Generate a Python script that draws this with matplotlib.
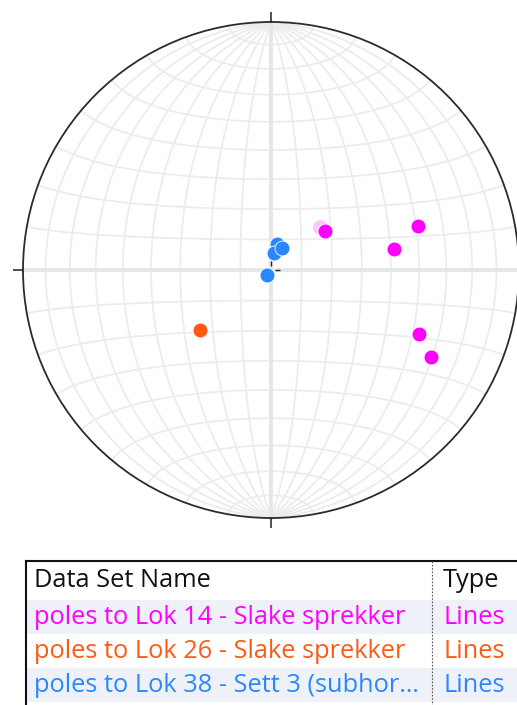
import numpy as np
import matplotlib
matplotlib.use("Agg")
import matplotlib.pyplot as plt
from matplotlib.patches import Rectangle, Circle

# Poles (trend, plunge in degrees), lower hemisphere
lok14_trend = [53.9, 73.3, 80.5, 113.4, 118.5]
lok14_plunge = [68.0, 38.0, 48.2, 35.1, 27.6]
lok14_faint_trend = [48.5]
lok14_faint_plunge = [68.5]
lok26_trend = [229.8]
lok26_plunge = [59.3]
lok38_trend = [12.4, 10.0, 26.0, 220.6]
lok38_plunge = [81.3, 84.2, 81.9, 87.8]

set_names = ["poles to Lok 14 - Slake sprekker",
             "poles to Lok 26 - Slake sprekker",
             "poles to Lok 38 - Sett 3 (subhor\u2026"]
set_types = ["Lines", "Lines", "Lines"]
set_colors = ["#ff00ff", "#ff5a14", "#2a88ff"]


def project(x, y, z):
    # Lambert equal-area, lower hemisphere (z <= 0), unit primitive
    s = 1.0 / np.sqrt(1.0 - z)
    return x * s, y * s


def pole_xy(trend, plunge):
    tr = np.radians(trend)
    pl = np.radians(plunge)
    x = np.cos(pl) * np.sin(tr)
    y = np.cos(pl) * np.cos(tr)
    z = -np.sin(pl)
    return project(x, y, z)


W, H = 517, 705
fig = plt.figure(figsize=(W / 100, H / 100), dpi=100)

# net axes: 248 px per unit, centre at (271, 270) px
R, cx, cy = 248.0, 271.0, 270.0
top_px = 548
ax = fig.add_axes([0, 1 - top_px / H, 1, top_px / H])
ax.set_xlim(-cx / R, (W - cx) / R)
ax.set_ylim((cy - top_px) / R, cy / R)
ax.axis("off")

grid_c = "#ececec"
t = np.linspace(0, np.pi, 361)
for d in range(10, 90, 10):
    a = np.radians(d)
    # great circles through N-S
    for sgn in (1, -1):
        x = np.sin(t) * np.cos(a) * sgn
        y = np.cos(t)
        z = -np.sin(t) * np.sin(a)
        px, py = project(x, y, z)
        ax.plot(px, py, color=grid_c, lw=1.3, zorder=1)
    # small circles about N-S axis
    for alpha in (d, 180 - d):
        b = np.radians(alpha)
        x = np.sin(b) * np.cos(t)
        y = np.full_like(t, np.cos(b))
        z = -np.sin(b) * np.sin(t)
        px, py = project(x, y, z)
        ax.plot(px, py, color=grid_c, lw=1.3, zorder=1)

ax.plot([-1, 1], [0, 0], color="#e6e6e6", lw=2.8, zorder=1)
ax.plot([0, 0], [-1, 1], color="#e6e6e6", lw=2.8, zorder=1)

ax.add_patch(Circle((0, 0), 1.0, fill=False, ec="#2b2b2b", lw=1.3, zorder=3))
tk = 10 / R
for dx, dy in [(0, 1), (1, 0), (0, -1), (-1, 0)]:
    ax.plot([dx, dx * (1 + tk)], [dy, dy * (1 + tk)], color="#222222", lw=1.1,
            zorder=3, solid_capstyle="butt")
    ax.plot([dx * 4 / R, dx * 9 / R], [dy * 4 / R, dy * 9 / R], color="#222222",
            lw=1.0, zorder=2, solid_capstyle="butt")

fx, fy = pole_xy(np.array(lok14_faint_trend), np.array(lok14_faint_plunge))
ax.scatter(fx, fy, s=115, color=set_colors[0], alpha=0.22, lw=0, zorder=4)
for tr, pl, c in [(lok14_trend, lok14_plunge, set_colors[0]),
                  (lok26_trend, lok26_plunge, set_colors[1]),
                  (lok38_trend, lok38_plunge, set_colors[2])]:
    px, py = pole_xy(np.array(tr), np.array(pl))
    ax.scatter(px, py, s=115, color=c, edgecolors="white", linewidths=0.6,
               zorder=5)

# legend table, in pixel coordinates
tab = fig.add_axes([0, 0, 1, 1])
tab.set_xlim(0, W)
tab.set_ylim(H, 0)
tab.axis("off")
tab.patch.set_alpha(0)

font = "Open Sans"
fs = 18.3
left, top, col_x = 26, 561, 432
head_h, row_h = 39, 34
for i in range(len(set_names)):
    y0 = top + head_h + i * row_h
    if i % 2 == 0:
        tab.add_patch(Rectangle((left, y0), W - left, row_h, color="#eef2f8",
                                lw=0, zorder=1))
    yc = y0 + row_h / 2
    tab.text(left + 8, yc, set_names[i], color=set_colors[i], fontsize=fs,
             family=font, va="center", ha="left", zorder=3)
    tab.text(col_x + 11, yc, set_types[i], color=set_colors[i], fontsize=fs,
             family=font, va="center", ha="left", zorder=3)

tab.text(left + 8, top + head_h / 2, "Data Set Name", color="#111111",
         fontsize=fs, family=font, va="center", ha="left", zorder=3)
tab.text(col_x + 11, top + head_h / 2, "Type", color="#111111",
         fontsize=fs, family=font, va="center", ha="left", zorder=3)
tab.plot([left, W], [top, top], color="#111111", lw=1.5, zorder=4)
tab.plot([left, left], [top, H], color="#111111", lw=1.5, zorder=4)
tab.plot([col_x, col_x], [top, H], color="#555555", lw=0.8, ls=(0, (1.5, 1.5)),
         zorder=4)

fig.savefig("out.png", dpi=100)
